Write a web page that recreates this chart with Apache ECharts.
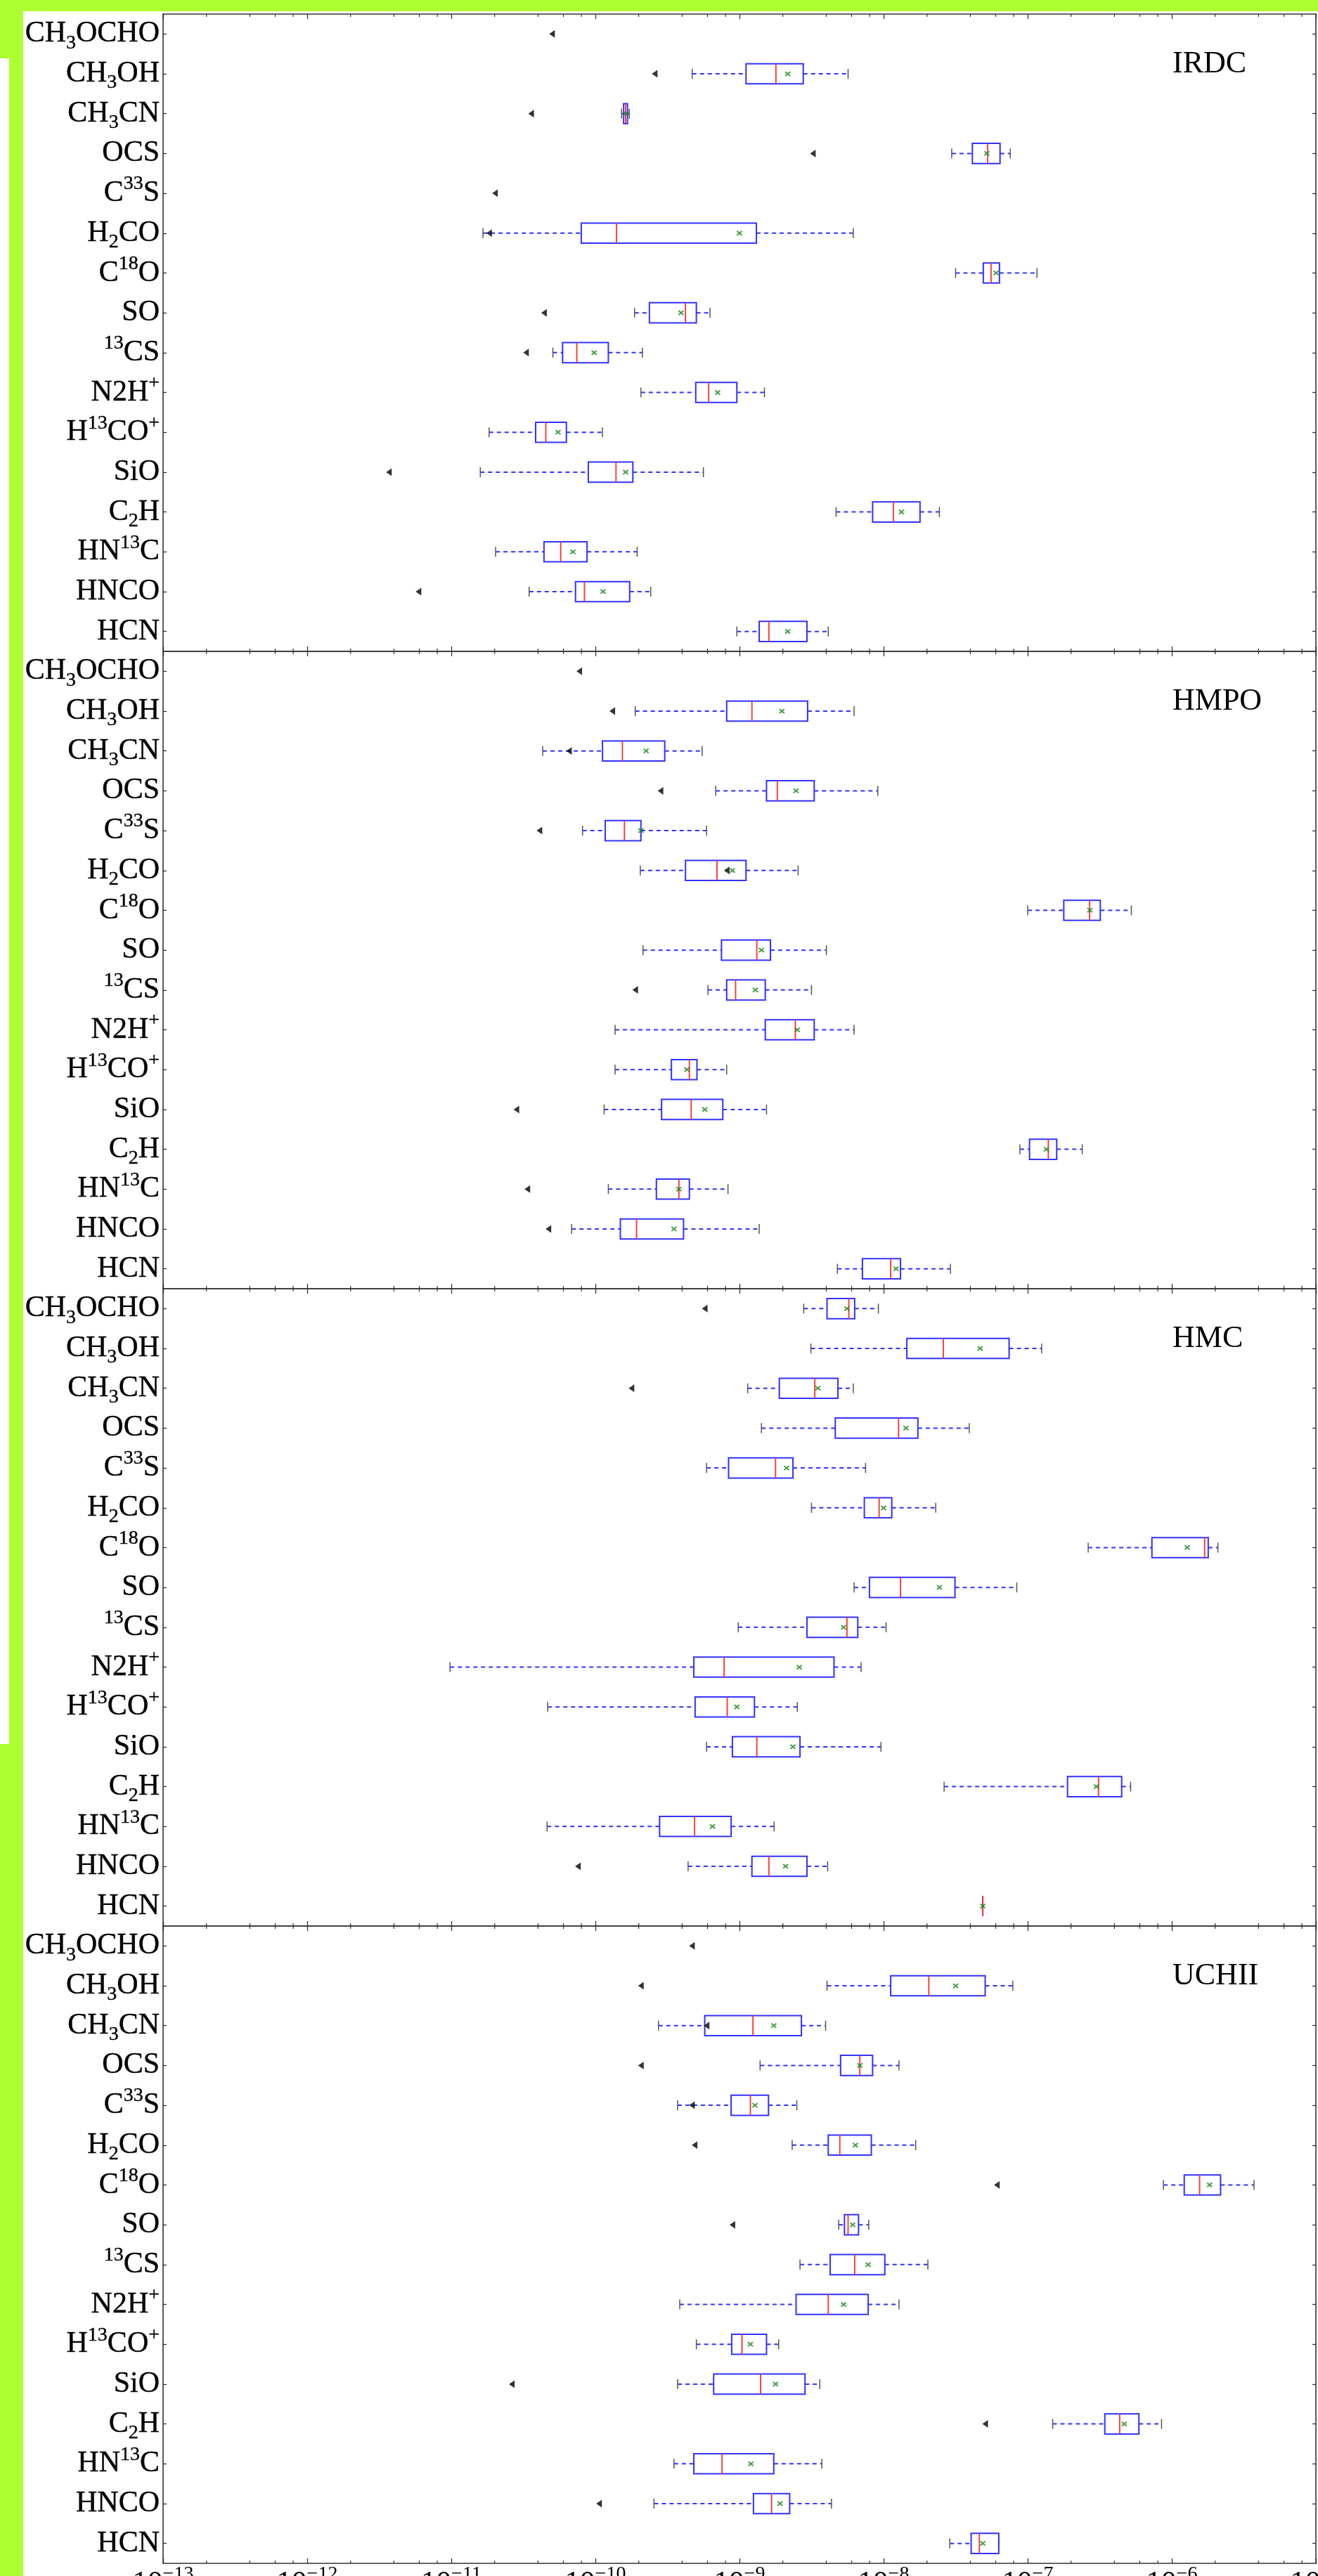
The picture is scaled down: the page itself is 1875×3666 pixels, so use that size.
<!DOCTYPE html>
<html><head><meta charset="utf-8">
<script src="https://cdn.jsdelivr.net/npm/echarts@6/dist/echarts.min.js"></script>
<style>html,body{margin:0;padding:0;background:#fff}#c{width:1875px;height:3666px}</style>
</head><body><div id="c"></div>
<script>
// ---------------- DATA ----------------
const categories = ['CH3OCHO','CH3OH','CH3CN','OCS','C33S','H2CO','C18O','SO','13CS','N2H+','H13CO+','SiO','C2H','HN13C','HNCO','HCN'];
const categoryLabels = ['CH{sub|3}OCHO','CH{sub|3}OH','CH{sub|3}CN','OCS','C{sup|33}S','H{sub|2}CO','C{sup|18}O','SO','{sup|13}CS','N2H{sup|+}','H{sup|13}CO{sup|+}','SiO','C{sub|2}H','HN{sup|13}C','HNCO','HCN'];
const panelNames = ['IRDC','HMPO','HMC','UCHII'];
const xTickExponents = [-13,-12,-11,-10,-9,-8,-7,-6,-5];
const xTickLabels = ['10{sup|−13}','10{sup|−12}','10{sup|−11}','10{sup|−10}','10{sup|−9}','10{sup|−8}','10{sup|−7}','10{sup|−6}','10{sup|−5}'];

// box stats: [whisker low, Q1, median, Q3, whisker high] (null = no box)
const irdcBox = [
  null,
  [4.7e-10, 1.11e-9, 1.79e-9, 2.77e-9, 5.67e-9],
  [1.52e-10, 1.57e-10, 1.62e-10, 1.67e-10, 1.72e-10],
  [2.97e-8, 4.13e-8, 5.28e-8, 6.43e-8, 7.57e-8],
  null,
  [1.66e-11, 7.98e-11, 1.40e-10, 1.31e-9, 6.16e-9],
  [3.16e-8, 4.92e-8, 5.57e-8, 6.37e-8, 1.16e-7],
  [1.87e-10, 2.37e-10, 4.22e-10, 5.02e-10, 6.24e-10],
  [5.07e-11, 5.92e-11, 7.43e-11, 1.23e-10, 2.12e-10],
  [2.07e-10, 4.97e-10, 6.11e-10, 9.59e-10, 1.49e-9],
  [1.83e-11, 3.85e-11, 4.53e-11, 6.29e-11, 1.12e-10],
  [1.59e-11, 8.93e-11, 1.39e-10, 1.82e-10, 5.62e-10],
  [4.68e-9, 8.39e-9, 1.17e-8, 1.79e-8, 2.44e-8],
  [2.03e-11, 4.40e-11, 5.74e-11, 8.75e-11, 1.95e-10],
  [3.47e-11, 7.28e-11, 8.39e-11, 1.73e-10, 2.42e-10],
  [9.59e-10, 1.37e-9, 1.60e-9, 2.94e-9, 4.13e-9]
];
const irdcMean = [null, 2.16e-9, 1.62e-10, 5.2e-8, null, 1.0e-9, 6.04e-8, 3.93e-10, 9.8e-11, 7.05e-10, 5.51e-11, 1.62e-10, 1.33e-8, 6.98e-11, 1.13e-10, 2.16e-9];
const irdcLimit = [5.0e-11, 2.58e-10, 3.58e-11, 3.23e-9, 2.01e-11, 1.83e-11, null, 4.40e-11, 3.30e-11, null, null, 3.69e-12, null, null, 5.92e-12, null];

const hmpoBox = [
  null,
  [1.89e-10, 8.15e-10, 1.22e-9, 2.97e-9, 6.24e-9],
  [4.31e-11, 1.12e-10, 1.54e-10, 3.03e-10, 5.51e-10],
  [6.84e-10, 1.54e-9, 1.83e-9, 3.30e-9, 9.12e-9],
  [8.14e-11, 1.17e-10, 1.59e-10, 2.07e-10, 5.91e-10],
  [2.05e-10, 4.22e-10, 6.98e-10, 1.11e-9, 2.55e-9],
  [1.0e-7, 1.78e-7, 2.69e-7, 3.19e-7, 5.24e-7],
  [2.14e-10, 7.50e-10, 1.32e-9, 1.64e-9, 4.01e-9],
  [6.04e-10, 8.15e-10, 9.40e-10, 1.51e-9, 3.16e-9],
  [1.37e-10, 1.51e-9, 2.44e-9, 3.30e-9, 6.24e-9],
  [1.37e-10, 3.37e-10, 4.49e-10, 5.07e-10, 8.15e-10],
  [1.15e-10, 2.88e-10, 4.62e-10, 7.66e-10, 1.54e-9],
  [8.83e-8, 1.03e-7, 1.39e-7, 1.59e-7, 2.39e-7],
  [1.23e-10, 2.65e-10, 3.80e-10, 4.49e-10, 8.32e-10],
  [6.84e-11, 1.49e-10, 1.93e-10, 4.09e-10, 1.37e-9],
  [4.78e-9, 7.13e-9, 1.12e-8, 1.31e-8, 2.91e-8]
];
const hmpoMean = [null, 1.97e-9, 2.25e-10, 2.47e-9, 2.07e-10, 8.93e-10, 2.7e-7, 1.42e-9, 1.29e-9, 2.52e-9, 4.31e-10, 5.74e-10, 1.35e-7, 3.80e-10, 3.51e-10, 1.22e-8];
const hmpoLimit = [7.73e-11, 1.31e-10, 6.56e-11, 2.83e-10, 4.09e-11, 8.15e-10, null, null, 1.89e-10, null, null, 2.83e-11, null, 3.37e-11, 4.72e-11, null];

const hmcBox = [
  [2.79e-9, 4.05e-9, 5.74e-9, 6.30e-9, 9.20e-9],
  [3.13e-9, 1.45e-8, 2.60e-8, 7.43e-8, 1.25e-7],
  [1.14e-9, 1.89e-9, 3.33e-9, 4.82e-9, 6.16e-9],
  [1.42e-9, 4.62e-9, 1.27e-8, 1.73e-8, 3.93e-8],
  [5.91e-10, 8.40e-10, 1.78e-9, 2.35e-9, 7.5e-9],
  [3.16e-9, 7.35e-9, 9.31e-9, 1.14e-8, 2.30e-8],
  [2.63e-7, 7.28e-7, 1.69e-6, 1.79e-6, 2.09e-6],
  [6.24e-9, 7.98e-9, 1.31e-8, 3.13e-8, 8.40e-8],
  [9.80e-10, 2.94e-9, 5.57e-9, 6.62e-9, 1.04e-8],
  [9.80e-12, 4.82e-10, 7.82e-10, 4.53e-9, 6.98e-9],
  [4.67e-11, 4.92e-10, 8.22e-10, 1.27e-9, 2.52e-9],
  [5.91e-10, 8.93e-10, 1.32e-9, 2.63e-9, 9.59e-9],
  [2.63e-8, 1.89e-7, 3.10e-7, 4.49e-7, 5.18e-7],
  [4.62e-11, 2.79e-10, 4.88e-10, 8.75e-10, 1.74e-9],
  [4.40e-10, 1.22e-9, 1.60e-9, 2.94e-9, 4.09e-9],
  [4.88e-8, 4.88e-8, 4.88e-8, 4.88e-8, 4.88e-8]
];
const hmcMean = [5.56e-9, 4.68e-8, 3.5e-9, 1.43e-8, 2.12e-9, 1.0e-8, 1.28e-6, 2.44e-8, 5.28e-9, 2.60e-9, 9.59e-10, 2.35e-9, 3.0e-7, 6.50e-10, 2.09e-9, 4.88e-8];
const hmcLimit = [5.74e-10, null, 1.78e-10, null, null, null, null, null, null, null, null, null, null, null, 7.56e-11, null];

const uchiiBox = [
  null,
  [4.05e-9, 1.12e-8, 2.06e-8, 5.07e-8, 7.89e-8],
  [2.74e-10, 5.74e-10, 1.24e-9, 2.69e-9, 3.96e-9],
  [1.39e-9, 5.03e-9, 6.84e-9, 8.39e-9, 1.28e-8],
  [3.72e-10, 8.75e-10, 1.19e-9, 1.59e-9, 2.50e-9],
  [2.32e-9, 4.13e-9, 4.97e-9, 8.22e-9, 1.67e-8],
  [8.75e-7, 1.22e-6, 1.56e-6, 2.18e-6, 3.72e-6],
  [4.88e-9, 5.35e-9, 5.67e-9, 6.70e-9, 7.89e-9],
  [2.63e-9, 4.26e-9, 6.30e-9, 1.02e-8, 2.03e-8],
  [3.85e-10, 2.47e-9, 4.13e-9, 7.82e-9, 1.28e-8],
  [5.02e-10, 8.83e-10, 1.04e-9, 1.54e-9, 1.87e-9],
  [3.72e-10, 6.62e-10, 1.40e-9, 2.85e-9, 3.61e-9],
  [1.49e-7, 3.43e-7, 4.35e-7, 5.91e-7, 8.49e-7],
  [3.51e-10, 4.82e-10, 7.57e-10, 1.73e-9, 3.73e-9],
  [2.55e-10, 1.25e-9, 1.67e-9, 2.23e-9, 4.35e-9],
  [2.88e-8, 4.05e-8, 4.62e-8, 6.30e-8, 6.30e-8]
];
const uchiiMean = [null, 3.16e-8, 1.73e-9, 6.84e-9, 1.28e-9, 6.37e-9, 1.83e-6, 6.10e-9, 7.82e-9, 5.28e-9, 1.19e-9, 1.78e-9, 4.68e-7, 1.20e-9, 1.91e-9, 4.88e-8];
const uchiiLimit = [4.68e-10, 2.07e-10, 5.91e-10, 2.07e-10, 4.68e-10, 4.88e-10, 6.11e-8, 8.93e-10, null, null, null, 2.63e-11, 5.07e-8, null, 1.06e-10, null];

const minorTickMultipliers = [2, 4, 6, 8];

// ---------------- CHART ----------------
const F = "'Liberation Serif', 'DejaVu Serif', serif";
const GREEN = '#adff2f';
const panels = [
  {box: irdcBox, mean: irdcMean, limit: irdcLimit},
  {box: hmpoBox, mean: hmpoMean, limit: hmpoLimit},
  {box: hmcBox, mean: hmcMean, limit: hmcLimit},
  {box: uchiiBox, mean: uchiiMean, limit: uchiiLimit}
];
const G_LEFT = 232, G_RIGHT = 3, G_TOP = 20, G_H = 907;

const minorTicks = [];
xTickExponents.slice(0, -1).forEach(e => minorTickMultipliers.forEach(m => minorTicks.push([m * Math.pow(10, e), 0])));

const frameColor = '#333';
const richSup = {fontSize: 28, fontFamily: F, color: '#000', lineHeight: 40, verticalAlign: 'top'};
const richSub = {fontSize: 28, fontFamily: F, color: '#000', lineHeight: 34, verticalAlign: 'bottom'};

function renderBox(params, api) {
  const c = api.value(0);
  const pLo = api.coord([api.value(1), c]);
  const pQ1 = api.coord([api.value(2), c]);
  const pMed = api.coord([api.value(3), c]);
  const pQ3 = api.coord([api.value(4), c]);
  const pHi = api.coord([api.value(5), c]);
  const band = api.size([0, 1], [api.value(3), c])[1];
  const y = pMed[1];
  const hb = band * 0.253, hc = band * 0.125;
  const blue = '#3232ff';
  const dash = {stroke: blue, lineWidth: 2, lineDash: [6, 5]};
  const cap = {stroke: '#555', lineWidth: 1.5};
  return {type: 'group', children: [
    {type: 'line', shape: {x1: pLo[0], y1: y, x2: pQ1[0], y2: y}, style: dash},
    {type: 'line', shape: {x1: pQ3[0], y1: y, x2: pHi[0], y2: y}, style: dash},
    {type: 'line', shape: {x1: pLo[0], y1: y - hc, x2: pLo[0], y2: y + hc}, style: cap},
    {type: 'line', shape: {x1: pHi[0], y1: y - hc, x2: pHi[0], y2: y + hc}, style: cap},
    {type: 'rect', shape: {x: pQ1[0], y: y - hb, width: pQ3[0] - pQ1[0], height: 2 * hb}, style: {fill: '#fff', stroke: blue, lineWidth: 2}},
    {type: 'line', shape: {x1: pMed[0], y1: y - hb, x2: pMed[0], y2: y + hb}, style: {stroke: '#ff3030', lineWidth: 1.8}}
  ]};
}

function renderMinor(params, api) {
  const x = api.coord([api.value(0), 0])[0];
  const cs = params.coordSys;
  const st = {stroke: frameColor, lineWidth: 1.2};
  return {type: 'group', children: [
    {type: 'line', shape: {x1: x, y1: cs.y, x2: x, y2: cs.y + 4}, style: st},
    {type: 'line', shape: {x1: x, y1: cs.y + cs.height, x2: x, y2: cs.y + cs.height - 4}, style: st}
  ]};
}

const option = {
  backgroundColor: '#fff',
  animation: false,
  grid: [], xAxis: [], yAxis: [], series: [],
  graphic: [
    {type: 'rect', silent: true, z: -10, shape: {x: 0, y: 0, width: 1875, height: 16}, style: {fill: GREEN}},
    {type: 'rect', silent: true, z: -10, shape: {x: 0, y: 0, width: 33, height: 83}, style: {fill: GREEN}},
    {type: 'rect', silent: true, z: -10, shape: {x: 13, y: 0, width: 20, height: 3666}, style: {fill: GREEN}},
    {type: 'rect', silent: true, z: -10, shape: {x: 0, y: 2482, width: 13, height: 1184}, style: {fill: GREEN}}
  ]
};

panels.forEach((p, i) => {
  const top = G_TOP + i * G_H;
  option.grid.push({left: G_LEFT, right: G_RIGHT, top: top, height: G_H, outerBoundsMode: 'none', containLabel: false});
  ['bottom', 'top'].forEach(pos => {
    const showLab = (pos === 'bottom' && i === 3);
    option.xAxis.push({
      type: 'log', logBase: 10, min: 1e-13, max: 1e-5, gridIndex: i, position: pos,
      axisLine: {show: true, onZero: false, lineStyle: {color: frameColor, width: 1.6}},
      axisTick: {show: true, inside: true, length: 7, lineStyle: {color: frameColor, width: 1.3}},
      splitLine: {show: false},
      axisLabel: {show: showLab, margin: 2, fontFamily: F, fontSize: 43, lineHeight: 54, color: '#000',
        showMinLabel: true, showMaxLabel: true, hideOverlap: false,
        formatter: v => xTickLabels[xTickExponents.indexOf(Math.round(Math.log10(v)))] || '',
        rich: {sup: richSup}}
    });
  });
  ['left', 'right'].forEach(pos => {
    option.yAxis.push({
      type: 'category', data: categories, inverse: true, gridIndex: i, position: pos,
      axisLine: {show: true, onZero: false, lineStyle: {color: frameColor, width: 1.6}},
      axisTick: {show: true, inside: true, length: 5, alignWithLabel: true, interval: 0, lineStyle: {color: frameColor, width: 1.3}},
      splitLine: {show: false},
      axisLabel: {show: pos === 'left', interval: 0, margin: 5, fontFamily: F, fontSize: 42, lineHeight: 54, color: '#000',
        textBorderColor: '#000', textBorderWidth: 0.4,
        formatter: v => categoryLabels[categories.indexOf(v)],
        rich: {sub: richSub, sup: richSup}}
    });
  });
  const boxData = [], meanData = [], limData = [];
  p.box.forEach((b, k) => { if (b) boxData.push([k].concat(b)); });
  p.mean.forEach((m, k) => { if (m != null) meanData.push([m, k]); });
  p.limit.forEach((m, k) => { if (m != null) limData.push([m, k]); });
  option.series.push({
    type: 'custom', xAxisIndex: 2 * i, yAxisIndex: 2 * i, renderItem: renderBox,
    encode: {x: [1, 2, 3, 4, 5], y: 0}, data: boxData, z: 2, clip: false
  });
  option.series.push({
    type: 'scatter', xAxisIndex: 2 * i, yAxisIndex: 2 * i, data: meanData, z: 4,
    symbol: 'path://M0,0L10,10M10,0L0,10', symbolSize: [7, 6],
    itemStyle: {color: 'rgba(0,0,0,0)', borderColor: '#118811', borderWidth: 2}
  });
  option.series.push({
    type: 'scatter', xAxisIndex: 2 * i, yAxisIndex: 2 * i, data: limData, z: 5,
    symbol: 'triangle', symbolRotate: 90, symbolSize: [11, 8], itemStyle: {color: '#000'}
  });
  option.series.push({
    type: 'custom', xAxisIndex: 2 * i, yAxisIndex: 2 * i, renderItem: renderMinor,
    encode: {x: 0, y: 1}, data: minorTicks, z: 6, clip: false, silent: true
  });
  option.graphic.push({type: 'text', silent: true, x: 1668, y: top + 71,
    style: {text: panelNames[i], font: '44px ' + F, fill: '#000', align: 'left', verticalAlign: 'middle', textAlign: 'left', textVerticalAlign: 'middle'}});
});

const chart = echarts.init(document.getElementById('c'), null, {renderer: 'canvas', width: 1875, height: 3666});
chart.setOption(option);
</script></body></html>
